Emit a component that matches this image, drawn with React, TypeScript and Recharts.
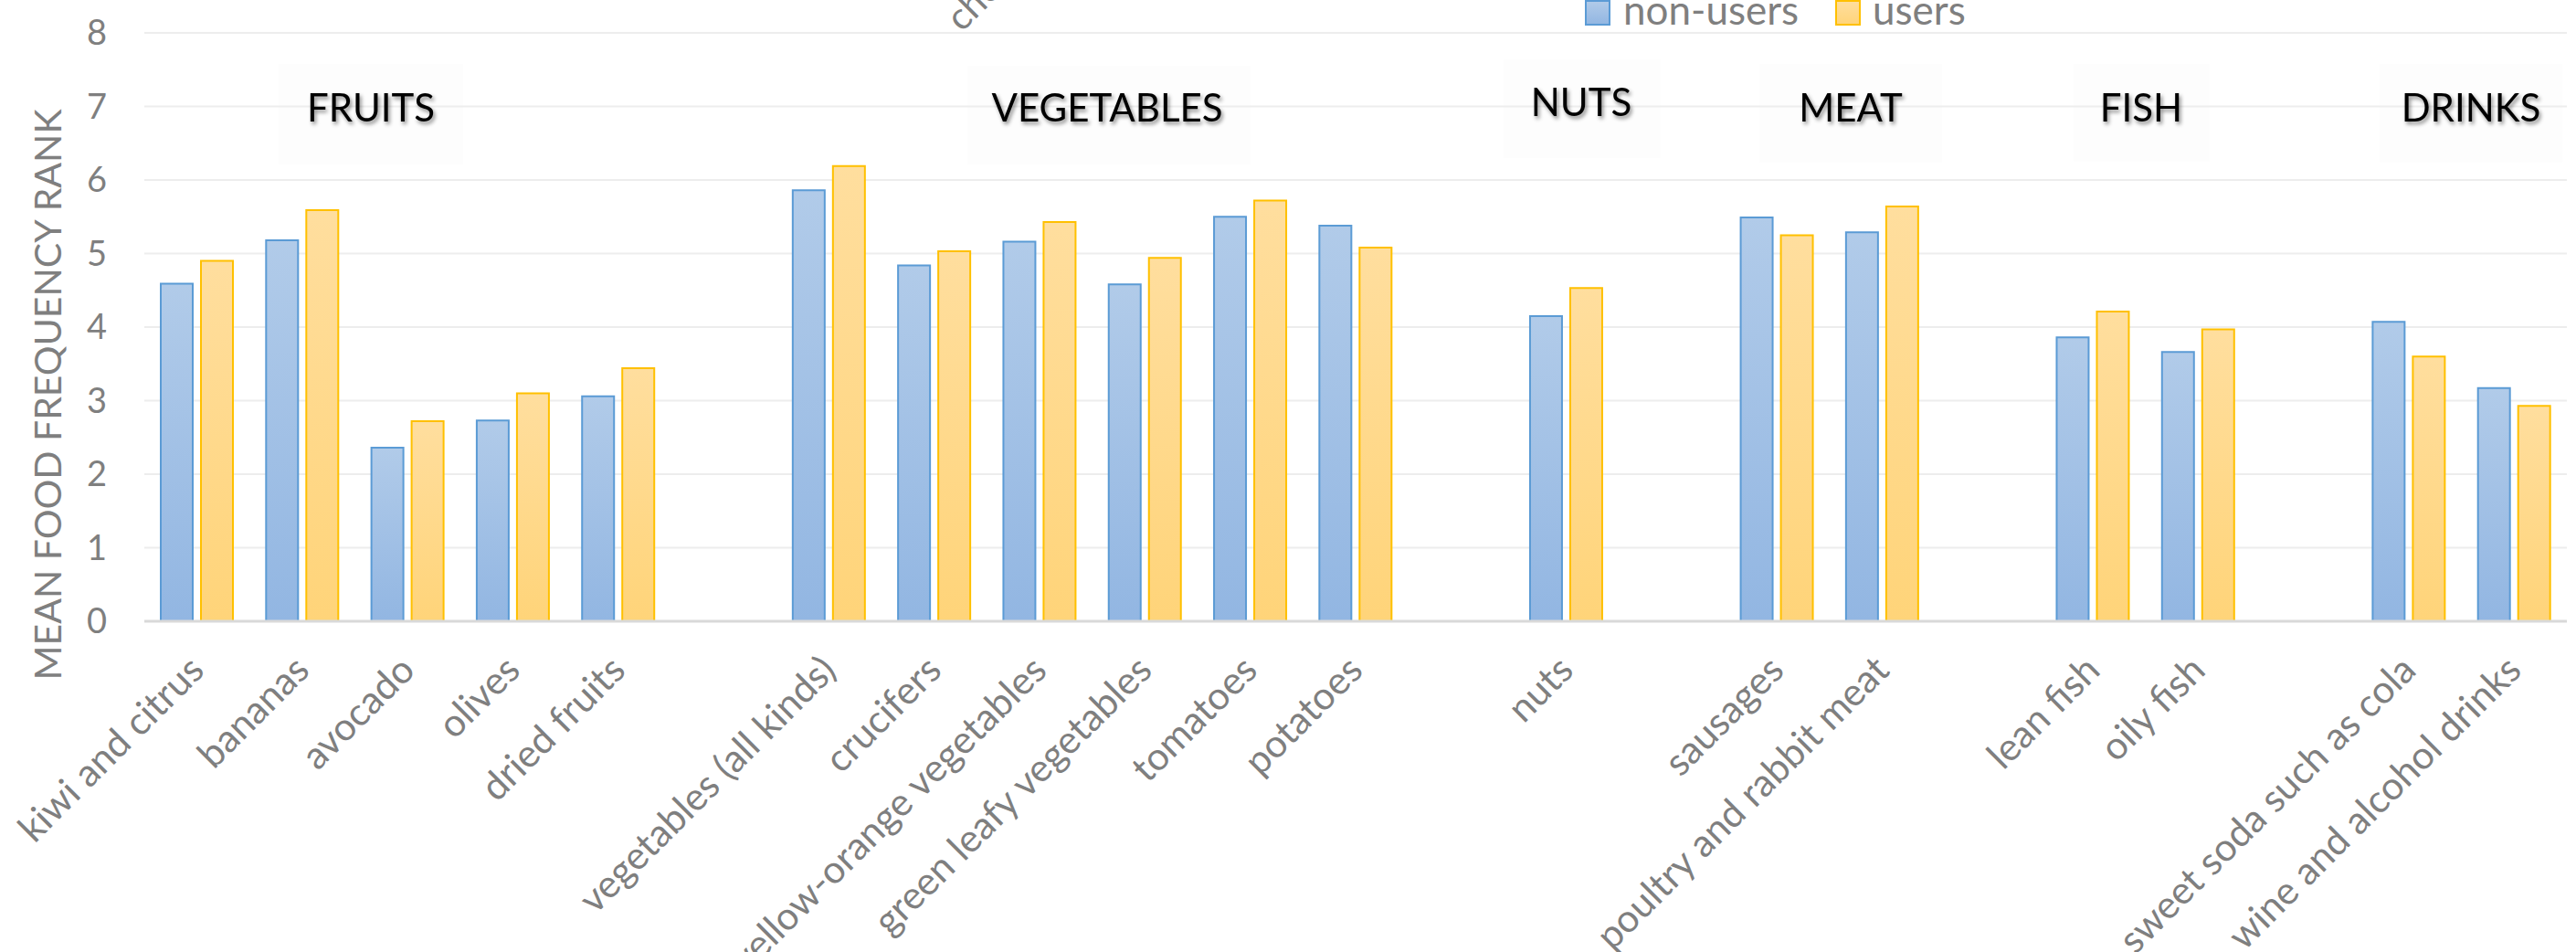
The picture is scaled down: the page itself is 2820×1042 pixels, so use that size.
import { BarChart, Bar, XAxis, YAxis, CartesianGrid } from 'recharts';

// food items, '' marks the empty slot between food groups
const categories = [
  'kiwi and citrus', 'bananas', 'avocado', 'olives', 'dried fruits', '',
  'vegetables (all kinds)', 'crucifers', 'yellow-orange vegetables', 'green leafy vegetables', 'tomatoes', 'potatoes', '',
  'nuts', '',
  'sausages', 'poultry and rabbit meat', '',
  'lean fish', 'oily fish', '',
  'sweet soda such as cola', 'wine and alcohol drinks',
];
const nonUsers = [4.59, 5.18, 2.36, 2.73, 3.06, null, 5.86, 4.84, 5.16, 4.58, 5.5, 5.38, null, 4.15, null, 5.49, 5.29, null, 3.86, 3.66, null, 4.07, 3.17];
const users = [4.9, 5.59, 2.72, 3.1, 3.44, null, 6.19, 5.03, 5.43, 4.94, 5.72, 5.08, null, 4.53, null, 5.25, 5.64, null, 4.21, 3.97, null, 3.6, 2.93];
const yTicks = [0, 1, 2, 3, 4, 5, 6, 7, 8];
const seriesNames = ['non-users', 'users'];
const groupNames = ['FRUITS', 'VEGETABLES', 'NUTS', 'MEAT', 'FISH', 'DRINKS'];
const yTitle = 'MEAN FOOD FREQUENCY RANK';

// where the group text boxes sit over the plot
const groupBoxes = [
  { cx: 406, base: 133, x: 305, y: 70, w: 202, h: 110 },
  { cx: 1212, base: 133, x: 1059, y: 72, w: 310, h: 108 },
  { cx: 1731, base: 127, x: 1646, y: 65, w: 172, h: 108 },
  { cx: 2026, base: 133, x: 1926, y: 70, w: 200, h: 108 },
  { cx: 2344, base: 133, x: 2270, y: 70, w: 149, h: 107 },
  { cx: 2705, base: 133, x: 2605, y: 70, w: 200, h: 108 },
];

const data = categories.map((name, i) => ({ name, nonUsers: nonUsers[i], users: users[i] }));

const W = 2820;
const H = 1042;
const FONT = 'Lato, "Open Sans", sans-serif';
const GREY = '#7F7F7F';

function CategoryTick({ x, y, payload }: any) {
  if (!payload || !payload.value) return null;
  const ax = x + 10;
  const ay = y - 4;
  return (
    <text x={ax} y={ay} transform={`rotate(-45 ${ax} ${ay})`} textAnchor="end" fill={GREY} fontSize={42} fontFamily={FONT}>
      {payload.value}
    </text>
  );
}

export default function App() {
  return (
    <div style={{ position: 'absolute', left: 0, top: 0, width: W, height: H, background: '#fff', overflow: 'hidden' }}>
      {/* bar gradients, shared by the chart and the legend swatches */}
      <svg width={0} height={0} style={{ position: 'absolute' }}>
        <defs>
          <linearGradient id="gradBlue" x1="0" y1="0" x2="0" y2="1">
            <stop offset="0%" stopColor="#B1CBE9" />
            <stop offset="100%" stopColor="#92B6E2" />
          </linearGradient>
          <linearGradient id="gradYellow" x1="0" y1="0" x2="0" y2="1">
            <stop offset="0%" stopColor="#FFDE9E" />
            <stop offset="100%" stopColor="#FFD479" />
          </linearGradient>
          <filter id="textShadow" x="-20%" y="-30%" width="140%" height="170%">
            <feDropShadow dx="2" dy="3" stdDeviation="2" floodColor="#000" floodOpacity="0.45" />
          </filter>
        </defs>
      </svg>

      <BarChart
        width={W}
        height={H}
        data={data}
        margin={{ top: 36, right: 10, left: 0, bottom: 0 }}
        barGap={9}
      >
        <CartesianGrid vertical={false} stroke="#EDEDED" strokeWidth={2} />
        <XAxis
          dataKey="name"
          interval={0}
          height={362}
          tickSize={0}
          tickMargin={60}
          tickLine={false}
          axisLine={{ stroke: '#D9D9D9', strokeWidth: 3 }}
          tick={<CategoryTick />}
        />
        <YAxis
          width={158}
          domain={[0, 8]}
          ticks={yTicks}
          tickSize={0}
          tickMargin={41}
          axisLine={false}
          tickLine={false}
          tick={{ fill: GREY, fontSize: 38, fontFamily: FONT }}
        />
        <Bar dataKey="nonUsers" name={seriesNames[0]} fill="url(#gradBlue)" stroke="#5B9BD5" strokeWidth={2} barSize={35} isAnimationActive={false} />
        <Bar dataKey="users" name={seriesNames[1]} fill="url(#gradYellow)" stroke="#FFC000" strokeWidth={2} barSize={35} isAnimationActive={false} />
      </BarChart>

      {/* annotations drawn over the chart: group titles, legend, axis title */}
      <svg width={W} height={H} style={{ position: 'absolute', left: 0, top: 0, pointerEvents: 'none' }}>
        {groupBoxes.map((g, i) => (
          <g key={groupNames[i]}>
            <rect x={g.x} y={g.y} width={g.w} height={g.h} fill="#f2f2f2" opacity={0.12} />
            <text x={g.cx} y={g.base} textAnchor="middle" fontSize={42} fontFamily={FONT} fill="#000" filter="url(#textShadow)">
              {groupNames[i]}
            </text>
          </g>
        ))}

        <text x={1053} y={36} transform="rotate(-45 1053 36)" fill={GREY} fontSize={41} fontFamily={FONT}>che</text>

        <rect x={1736} y={1} width={26} height={26} fill="url(#gradBlue)" stroke="#5B9BD5" strokeWidth={2} />
        <text x={1777} y={27} fill={GREY} fontSize={44} fontFamily={FONT}>{seriesNames[0]}</text>
        <rect x={2010} y={1} width={26} height={26} fill="url(#gradYellow)" stroke="#FFC000" strokeWidth={2} />
        <text x={2050} y={27} fill={GREY} fontSize={44} fontFamily={FONT}>{seriesNames[1]}</text>

        <text x={51} y={432} transform="rotate(-90 51 432)" textAnchor="middle" dominantBaseline="central" fill={GREY} fontSize={41} fontFamily={FONT}>
          {yTitle}
        </text>
      </svg>
    </div>
  );
}
